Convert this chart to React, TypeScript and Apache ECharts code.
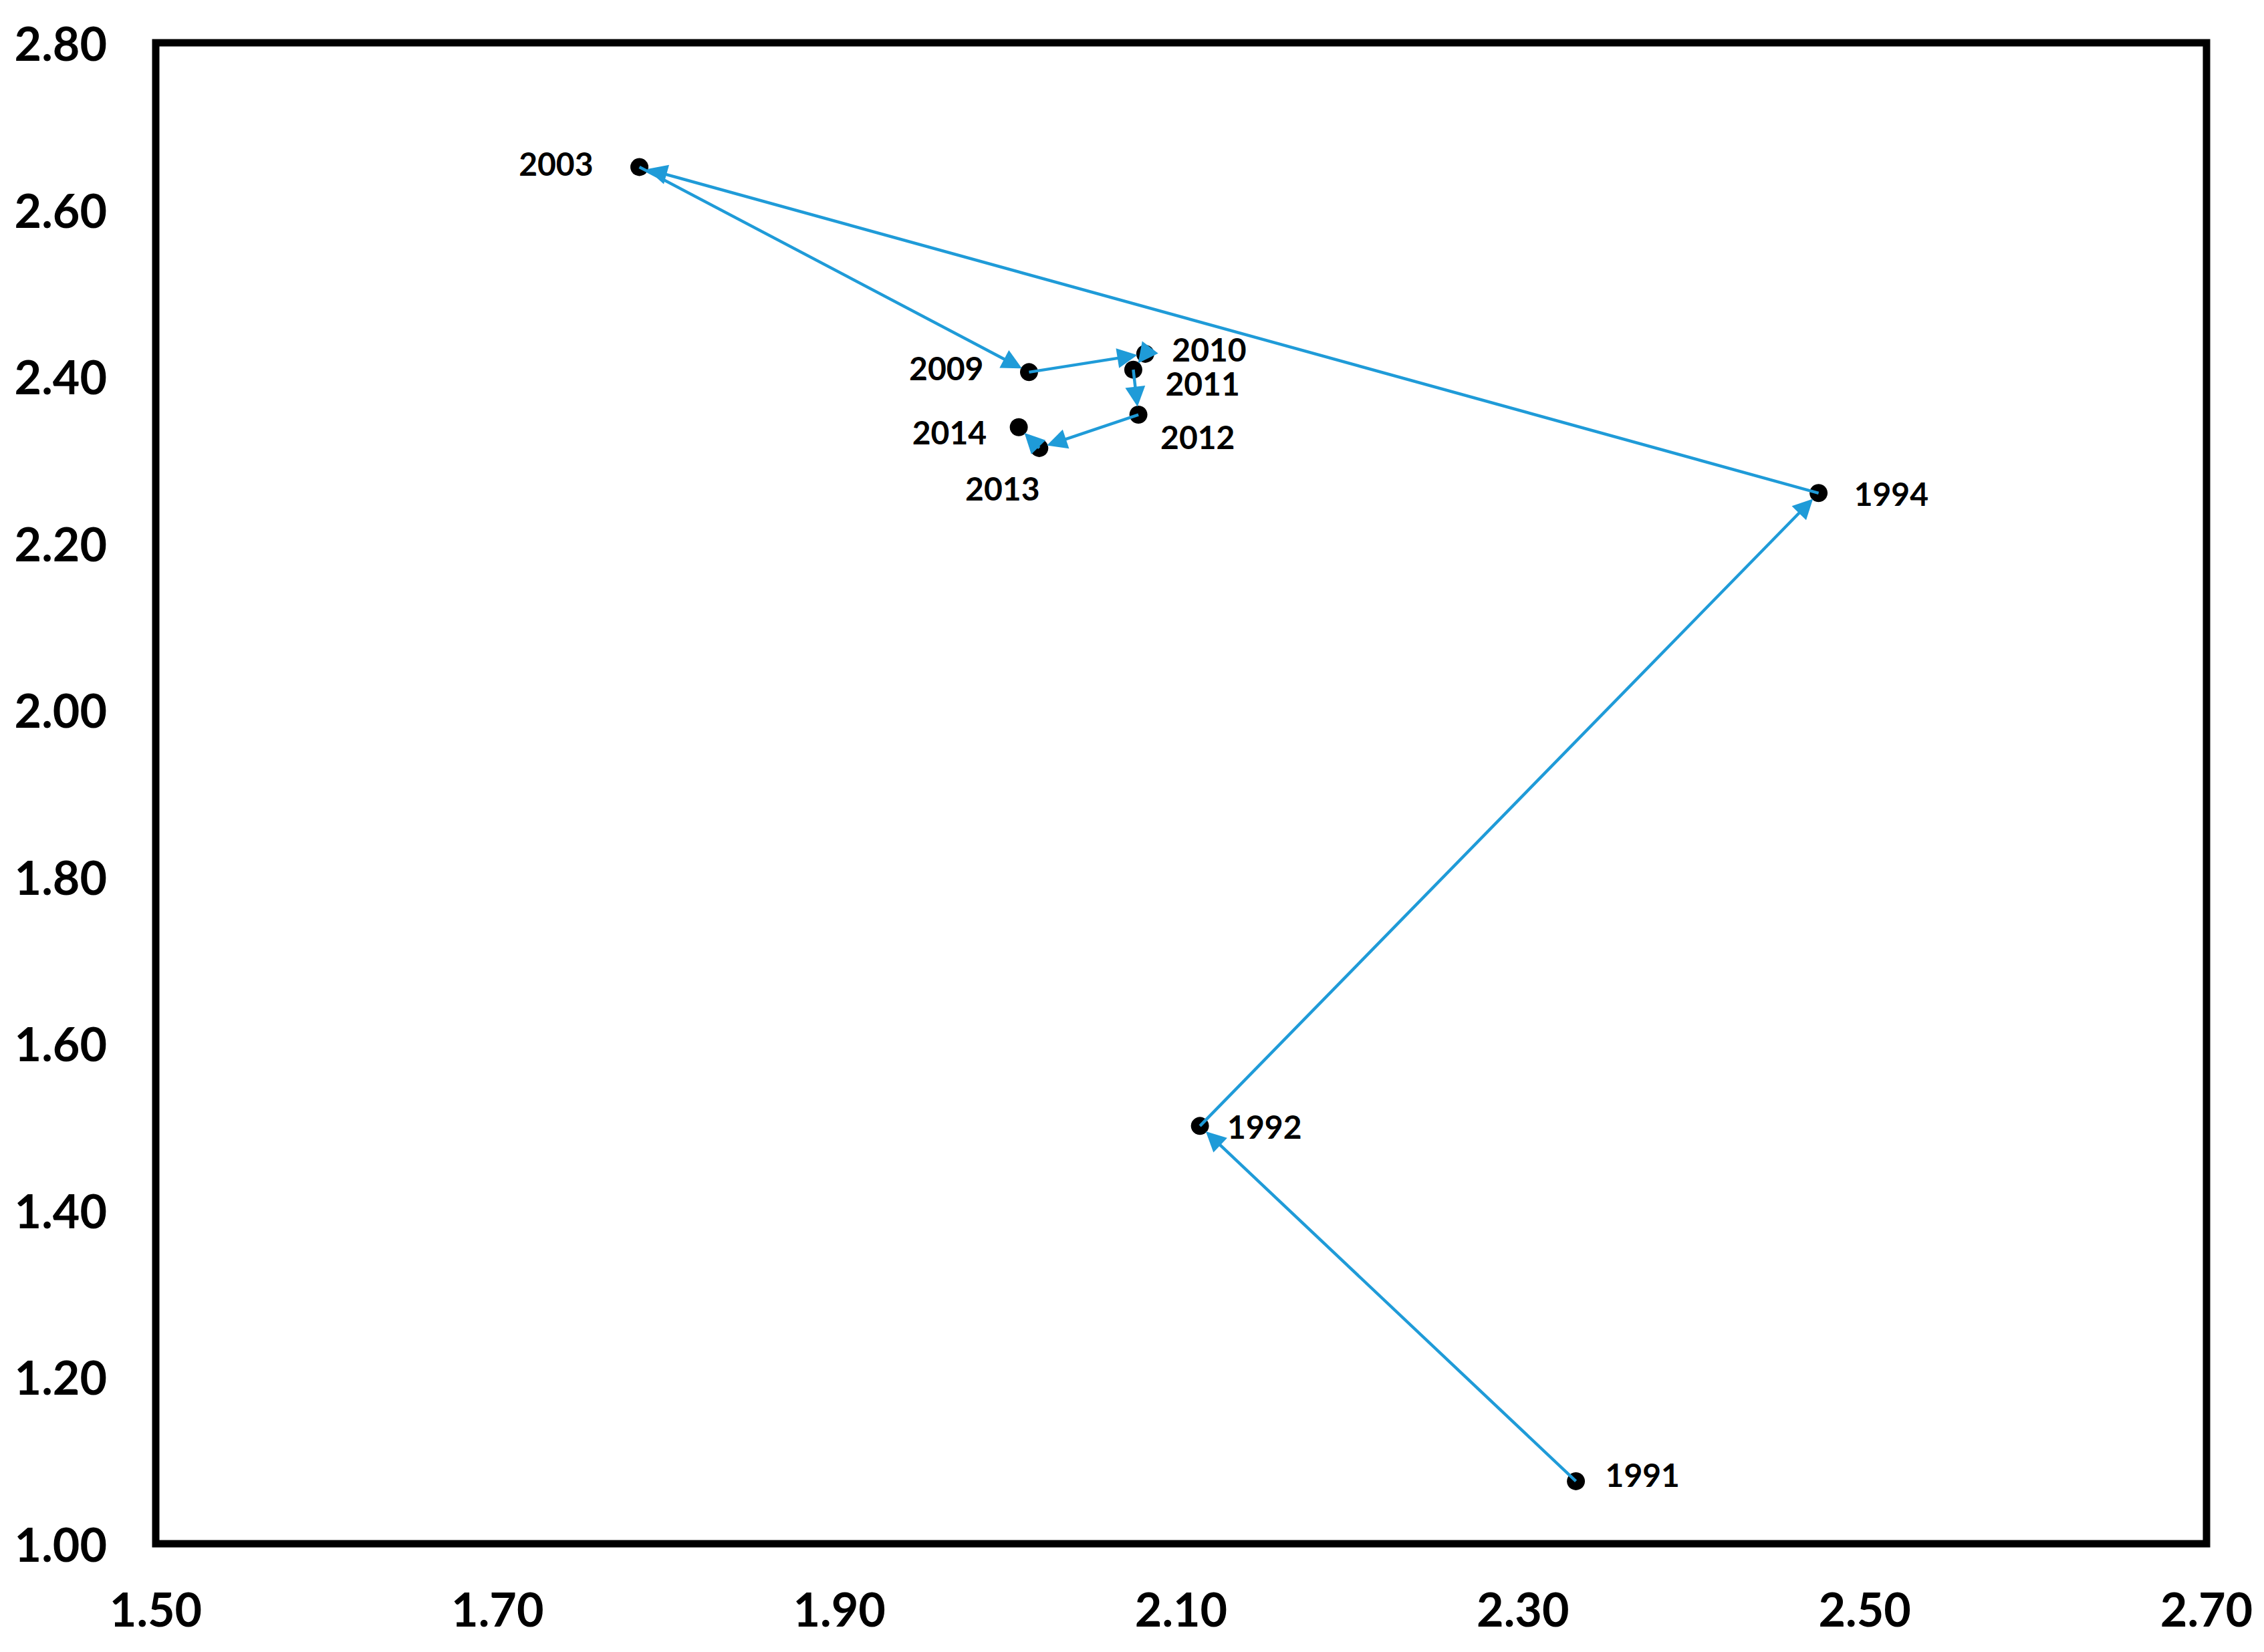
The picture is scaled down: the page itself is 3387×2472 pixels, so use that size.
import React, { useEffect, useRef } from "react";
import * as echarts from "echarts";

// ---- data ----
const years: string[] = ["1991", "1992", "1994", "2003", "2009", "2010", "2011", "2012", "2013", "2014"];
const xValues: number[] = [2.331, 2.111, 2.473, 1.783, 2.011, 2.079, 2.072, 2.075, 2.017, 2.005];
const yValues: number[] = [1.075, 1.501, 2.26, 2.651, 2.405, 2.427, 2.408, 2.354, 2.314, 2.339];
const xTicks: number[] = [1.5, 1.7, 1.9, 2.1, 2.3, 2.5, 2.7];
const yTicks: number[] = [1.0, 1.2, 1.4, 1.6, 1.8, 2.0, 2.2, 2.4, 2.6, 2.8];

// ---- label placement (style only) ----
const labelPlacement: Record<string, { align: string; offset: [number, number] }> = {
  "1991": { align: "left", offset: [44, -10] },
  "1992": { align: "left", offset: [41, 1] },
  "1994": { align: "left", offset: [53, 1] },
  "2003": { align: "right", offset: [-69, -5] },
  "2009": { align: "right", offset: [-68, -6] },
  "2010": { align: "left", offset: [40, -7] },
  "2011": { align: "left", offset: [48, 20] },
  "2012": { align: "left", offset: [33, 33] },
  "2013": { align: "center", offset: [-55, 60] },
  "2014": { align: "right", offset: [-48, 7] },
};

const FONT = "Lato, 'Open Sans', sans-serif";
const BLUE = "#1f9bd8";
const ARROW_LEN = 30;
const ARROW_WIDTH = 30;
const ARROW_GAP = 12;

export default function App() {
  const ref = useRef<HTMLDivElement>(null);

  useEffect(() => {
    if (!ref.current) return;
    const chart = echarts.init(ref.current, null, { renderer: "svg" });

    const points = years.map((yr, i) => {
      const p = labelPlacement[yr];
      return {
        name: yr,
        value: [xValues[i], yValues[i]],
        label: {
          show: true,
          position: "inside",
          formatter: yr,
          align: p.align,
          verticalAlign: "middle",
          offset: p.offset,
          color: "#000",
          opacity: 1,
          fontFamily: FONT,
          fontWeight: "bold",
          fontSize: 48,
        },
      };
    });

    const segments: number[][] = [];
    for (let i = 0; i < years.length - 1; i++) {
      segments.push([xValues[i], yValues[i], xValues[i + 1], yValues[i + 1]]);
    }

    const renderArrow = (params: any, api: any) => {
      const p0 = api.coord([api.value(0), api.value(1)]);
      const p1 = api.coord([api.value(2), api.value(3)]);
      const dx = p1[0] - p0[0];
      const dy = p1[1] - p0[1];
      const len = Math.sqrt(dx * dx + dy * dy) || 1;
      const ux = dx / len;
      const uy = dy / len;
      const tip = [p1[0] - ux * ARROW_GAP, p1[1] - uy * ARROW_GAP];
      const base = [tip[0] - ux * ARROW_LEN, tip[1] - uy * ARROW_LEN];
      const px = -uy;
      const py = ux;
      const hw = ARROW_WIDTH / 2;
      return {
        type: "group",
        children: [
          {
            type: "line",
            shape: { x1: p0[0], y1: p0[1], x2: base[0] + ux * 4, y2: base[1] + uy * 4 },
            style: { stroke: BLUE, lineWidth: 4.5, lineCap: "butt" },
          },
          {
            type: "polygon",
            shape: {
              points: [
                tip,
                [base[0] + px * hw, base[1] + py * hw],
                [base[0] - px * hw, base[1] - py * hw],
              ],
            },
            style: { fill: BLUE, stroke: "none" },
          },
        ],
      };
    };

    const axisLabelStyle = {
      color: "#000",
      fontFamily: FONT,
      fontWeight: "bold",
      fontSize: 70,
    };

    chart.setOption({
      animation: false,
      backgroundColor: "#fff",
      grid: {
        left: 233,
        right: 86,
        top: 64,
        bottom: 162,
        show: true,
        borderColor: "#000",
        borderWidth: 11,
        backgroundColor: "transparent",
        containLabel: false,
        outerBoundsMode: "none",
      },
      xAxis: {
        type: "value",
        min: xTicks[0],
        max: xTicks[xTicks.length - 1],
        interval: 0.2,
        axisLine: { show: false },
        axisTick: { show: false },
        splitLine: { show: false },
        axisLabel: {
          ...axisLabelStyle,
          margin: 62,
          formatter: (v: number) => v.toFixed(2),
        },
      },
      yAxis: {
        type: "value",
        min: yTicks[0],
        max: yTicks[yTicks.length - 1],
        interval: 0.2,
        axisLine: { show: false },
        axisTick: { show: false },
        splitLine: { show: false },
        axisLabel: {
          ...axisLabelStyle,
          margin: 73,
          formatter: (v: number) => v.toFixed(2),
        },
      },
      series: [
        {
          type: "scatter",
          data: points,
          symbol: "circle",
          symbolSize: 27,
          itemStyle: { color: "#000", opacity: 1 },
          z: 2,
        },
        {
          type: "custom",
          coordinateSystem: "cartesian2d",
          data: segments,
          encode: { x: [0, 2], y: [1, 3] },
          renderItem: renderArrow,
          silent: true,
          z: 3,
        },
      ],
    });

    return () => chart.dispose();
  }, []);

  return (
    <div
      ref={ref}
      style={{ position: "fixed", left: 0, top: 0, width: 3387, height: 2472, background: "#fff" }}
    />
  );
}
